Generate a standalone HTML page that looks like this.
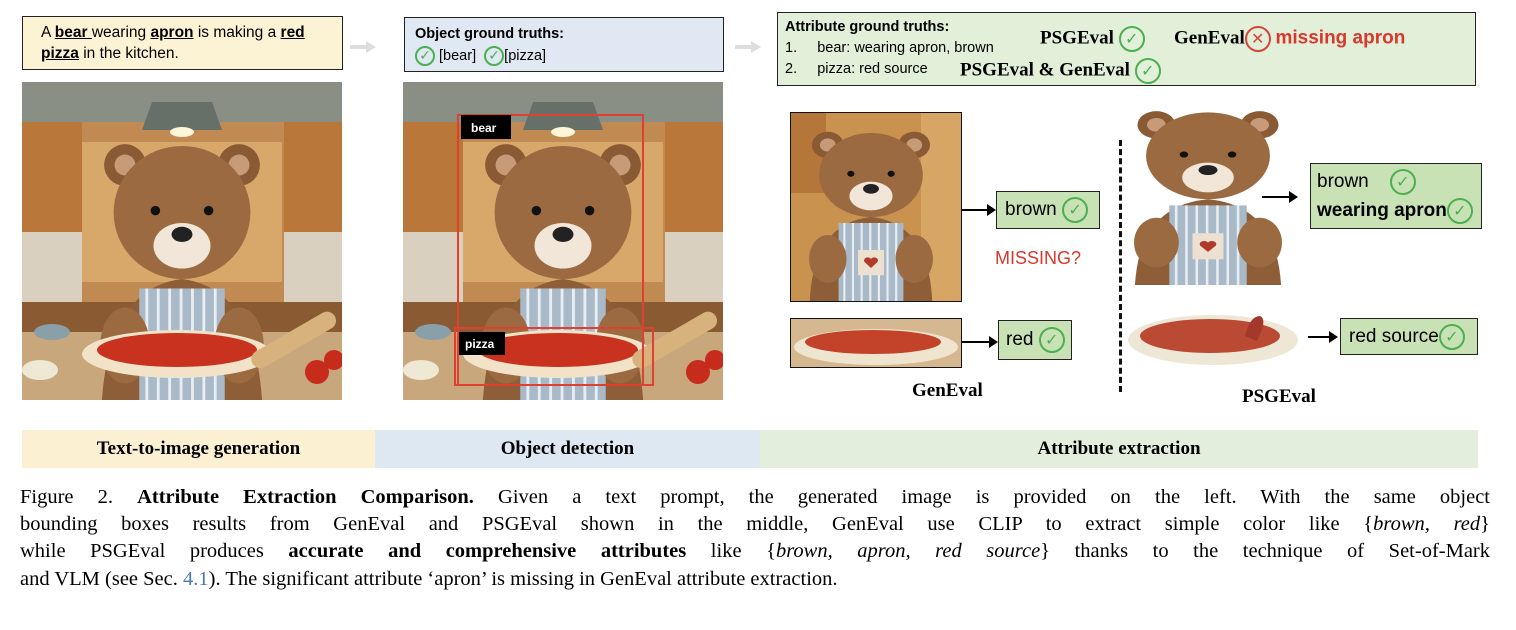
<!DOCTYPE html>
<html><head><meta charset="utf-8"><style>
body{margin:0;width:1516px;height:630px;background:#fff;position:relative;overflow:hidden;font-family:"Liberation Sans",sans-serif;}
.a{position:absolute;white-space:nowrap;}
.box{position:absolute;border:1.5px solid #222;box-sizing:border-box;white-space:nowrap;}
.ck{display:inline-block;width:20px;height:20px;border:2.5px solid #4caf50;border-radius:50%;box-sizing:border-box;color:#4caf50;font-size:14px;line-height:16px;text-align:center;font-weight:bold;vertical-align:middle;font-family:"DejaVu Sans",sans-serif;}
.big{width:26px;height:26px;line-height:21px;font-size:16px;}
.ser{font-family:"Liberation Serif",serif;font-weight:bold;}
.cap{position:absolute;left:20px;width:1470px;font-family:"Liberation Serif",serif;font-size:20.5px;line-height:27.5px;text-align:justify;text-align-last:justify;white-space:nowrap;}
.arr{position:absolute;height:2px;background:#000;}
.arr:after{content:"";position:absolute;right:-2px;top:-5px;border-left:9px solid #000;border-top:6px solid transparent;border-bottom:6px solid transparent;}
</style></head><body>
<svg width="0" height="0" style="position:absolute"><defs>
<g id="bear">
<circle cx="40" cy="40" r="22" fill="#8a5a34"/><circle cx="160" cy="40" r="22" fill="#8a5a34"/>
<circle cx="40" cy="40" r="11" fill="#c79a78"/><circle cx="160" cy="40" r="11" fill="#c79a78"/>
<ellipse cx="100" cy="90" rx="72" ry="70" fill="#9b6a40"/>
<ellipse cx="100" cy="125" rx="30" ry="24" fill="#f1e6d8"/>
<ellipse cx="100" cy="113" rx="11" ry="8" fill="#222"/>
<circle cx="72" cy="88" r="5" fill="#111"/><circle cx="128" cy="88" r="5" fill="#111"/>
<path d="M15 300 Q20 170 100 160 Q180 170 185 300Z" fill="#8d5e37"/>
<rect x="55" y="170" width="90" height="130" fill="#a9b9c8"/>
<g stroke="#e6edf3" stroke-width="3"><line x1="63" y1="170" x2="63" y2="300"/><line x1="75" y1="170" x2="75" y2="300"/><line x1="87" y1="170" x2="87" y2="300"/><line x1="99" y1="170" x2="99" y2="300"/><line x1="111" y1="170" x2="111" y2="300"/><line x1="123" y1="170" x2="123" y2="300"/><line x1="135" y1="170" x2="135" y2="300"/></g>
<rect x="82" y="215" width="36" height="42" fill="#ece1d1"/><path d="M100 245 l-9 -10 a5 5 0 0 1 9 -5 a5 5 0 0 1 9 5z" fill="#b23a2b"/>
<ellipse cx="40" cy="230" rx="26" ry="40" fill="#9b6a40"/><ellipse cx="160" cy="230" rx="26" ry="40" fill="#9b6a40"/>
</g>
<g id="kitchen">
<rect width="320" height="318" fill="#c08a52"/>
<rect x="0" y="0" width="320" height="40" fill="#8a8f86"/>
<rect x="0" y="40" width="60" height="110" fill="#b9783a"/><rect x="262" y="40" width="58" height="110" fill="#b9783a"/>
<rect x="60" y="60" width="200" height="140" fill="#d8a86a"/>
<rect x="0" y="150" width="60" height="70" fill="#d9d0c0"/><rect x="262" y="150" width="58" height="70" fill="#d9d0c0"/>
<path d="M130 20 L190 20 L200 48 L120 48Z" fill="#667068"/><ellipse cx="160" cy="50" rx="12" ry="5" fill="#fff6d8"/>
<rect x="0" y="220" width="320" height="98" fill="#8a5a32"/>
<rect x="0" y="250" width="320" height="68" fill="#c9a77c"/>
<g transform="translate(65,45) scale(0.95)"><use href="#bear"/></g>
<ellipse cx="155" cy="272" rx="95" ry="24" fill="#f2e3c8"/>
<ellipse cx="155" cy="268" rx="80" ry="17" fill="#c8321f"/>
<rect x="225" y="250" width="95" height="18" rx="9" fill="#d7b27c" transform="rotate(-30 270 260)"/>
<circle cx="295" cy="290" r="12" fill="#c62b1c"/><circle cx="312" cy="278" r="10" fill="#c62b1c"/>
<ellipse cx="30" cy="250" rx="18" ry="8" fill="#8aa0a8"/><ellipse cx="18" cy="288" rx="18" ry="10" fill="#eee8d4"/>
</g>
</defs></svg>

<!-- top prompt boxes -->
<div class="box" style="left:22px;top:16px;width:321px;height:54px;background:#fcf2d4;font-size:15.5px;line-height:21px;padding:5px 0 0 18px;">A <b><u>bear </u></b>wearing <b><u>apron</u></b> is making a <b><u>red</u></b><br><b><u>pizza</u></b> in the kitchen.</div>
<div class="box" style="left:404px;top:17px;width:320px;height:55px;background:#dfe8f3;font-size:14.5px;line-height:22px;padding:5px 0 0 10px;"><b>Object ground truths:</b><br><span class="ck">✓</span> [bear] &nbsp;<span class="ck">✓</span>[pizza]</div>
<svg class="a" style="left:350px;top:40px" width="30" height="14"><path d="M0 5 h16 v-4 l10 6 -10 6 v-4 h-16z" fill="#ddd"/></svg>
<svg class="a" style="left:735px;top:40px" width="30" height="14"><path d="M0 5 h16 v-4 l10 6 -10 6 v-4 h-16z" fill="#ddd"/></svg>
<div class="box" style="left:777px;top:12px;width:699px;height:74px;background:#e2efd9;font-size:14.5px;line-height:21px;padding:4px 0 0 7px;">
<b>Attribute ground truths:</b><br>
1.&nbsp;&nbsp;&nbsp;&nbsp; bear: wearing apron, brown<br>
2.&nbsp;&nbsp;&nbsp;&nbsp; pizza: red source</div>
<div class="a ser" style="left:1040px;top:26px;font-size:19px;">PSGEval <span class="ck big">✓</span></div>
<div class="a ser" style="left:1174px;top:26px;font-size:19px;">GenEval<span class="ck big" style="border-color:#d9443a;color:#d9443a;">✕</span> <span style="font-family:'Liberation Sans',sans-serif;color:#d9382c;font-size:19px;">missing apron</span></div>
<div class="a ser" style="left:960px;top:58px;font-size:19px;">PSGEval &amp; GenEval <span class="ck big">✓</span></div>

<!-- images -->
<svg class="a" style="left:22px;top:82px" width="320" height="318"><use href="#kitchen"/></svg>
<svg class="a" style="left:403px;top:82px" width="320" height="318"><use href="#kitchen"/>
<rect x="55" y="33" width="185" height="270" fill="none" stroke="#e04030" stroke-width="2"/>
<rect x="58" y="33" width="50" height="24" fill="#000"/><text x="68" y="50" fill="#fff" font-size="12" font-weight="bold" font-family="Liberation Sans">bear</text>
<rect x="52" y="246" width="198" height="57" fill="none" stroke="#e04030" stroke-width="2"/>
<rect x="56" y="250" width="46" height="23" fill="#000"/><text x="62" y="266" fill="#fff" font-size="12" font-weight="bold" font-family="Liberation Sans">pizza</text></svg>

<svg class="a" style="left:790px;top:112px;border:1.5px solid #111" width="170" height="188">
<rect width="170" height="188" fill="#c9924f"/><rect x="0" y="0" width="35" height="80" fill="#b5763a"/><rect x="130" y="0" width="40" height="188" fill="#d7a564"/>
<g transform="translate(8,8) scale(0.72,0.6)"><use href="#bear"/></g></svg>
<svg class="a" style="left:790px;top:318px;border:1.5px solid #111" width="170" height="48"><rect width="170" height="48" fill="#d6b890"/><ellipse cx="85" cy="28" rx="82" ry="18" fill="#efe5cf"/><ellipse cx="82" cy="23" rx="68" ry="12" fill="#c3422a"/></svg>
<svg class="a" style="left:1122px;top:100px" width="172" height="185"><g transform="translate(0,0) scale(0.86,0.62)"><use href="#bear"/></g></svg>
<svg class="a" style="left:1127px;top:308px" width="172" height="60"><ellipse cx="86" cy="32" rx="85" ry="25" fill="#efe7d6"/><ellipse cx="83" cy="28" rx="70" ry="17" fill="#bb4a34"/><path d="M118 28 q5 -20 15 -20 q8 3 -3 25z" fill="#a4382a"/></svg>

<!-- arrows & result boxes -->
<div class="arr" style="left:962px;top:209px;width:32px"></div>
<div class="box" style="left:996px;top:191px;width:104px;height:38px;background:#c9e2b5;font-size:19px;line-height:36px;padding-left:8px;">brown <span class="ck big">✓</span></div>
<div class="a" style="left:995px;top:248px;color:#d9382c;font-size:18px;">MISSING?</div>
<div class="arr" style="left:962px;top:341px;width:34px"></div>
<div class="box" style="left:998px;top:320px;width:74px;height:40px;background:#c9e2b5;font-size:19px;line-height:38px;padding-left:7px;">red <span class="ck big">✓</span></div>
<div class="a" style="left:1119px;top:140px;height:252px;border-left:3px dashed #111;"></div>
<div class="arr" style="left:1262px;top:196px;width:34px"></div>
<div class="box" style="left:1310px;top:163px;width:172px;height:66px;background:#c9e2b5;font-size:19px;line-height:29px;padding:3px 0 0 6px;">brown&nbsp;&nbsp;&nbsp; <span class="ck big">✓</span><br><b>wearing apron</b><span class="ck big">✓</span></div>
<div class="arr" style="left:1308px;top:336px;width:28px"></div>
<div class="box" style="left:1340px;top:318px;width:138px;height:37px;background:#c9e2b5;font-size:19px;line-height:35px;padding-left:8px;">red source<span class="ck big">✓</span></div>
<div class="a ser" style="left:912px;top:380px;font-size:19px;">GenEval</div>
<div class="a ser" style="left:1242px;top:386px;font-size:19px;">PSGEval</div>

<!-- bottom band -->
<div class="a ser" style="left:22px;top:430px;width:353px;height:38px;background:#fbf0d2;font-size:19px;line-height:38px;text-align:center;">Text-to-image generation</div>
<div class="a ser" style="left:375px;top:430px;width:385px;height:38px;background:#dee8f3;font-size:19px;line-height:38px;text-align:center;">Object detection</div>
<div class="a ser" style="left:760px;top:430px;width:718px;height:38px;background:#e3efdc;font-size:19px;line-height:38px;text-align:center;">Attribute extraction</div>

<div class="cap" style="top:484px;">Figure 2. <b>Attribute Extraction Comparison.</b> Given a text prompt, the generated image is provided on the left. With the same object</div>
<div class="cap" style="top:511px;">bounding boxes results from GenEval and PSGEval shown in the middle, GenEval use CLIP to extract simple color like {<i>brown, red</i>}</div>
<div class="cap" style="top:538px;">while PSGEval produces <b>accurate and comprehensive attributes</b> like {<i>brown, apron, red source</i>} thanks to the technique of Set-of-Mark</div>
<div class="cap" style="top:566px;text-align-last:left;">and VLM (see Sec. <span style="color:#4a78b0">4.1</span>). The significant attribute ‘apron’ is missing in GenEval attribute extraction.</div>
</body></html>
